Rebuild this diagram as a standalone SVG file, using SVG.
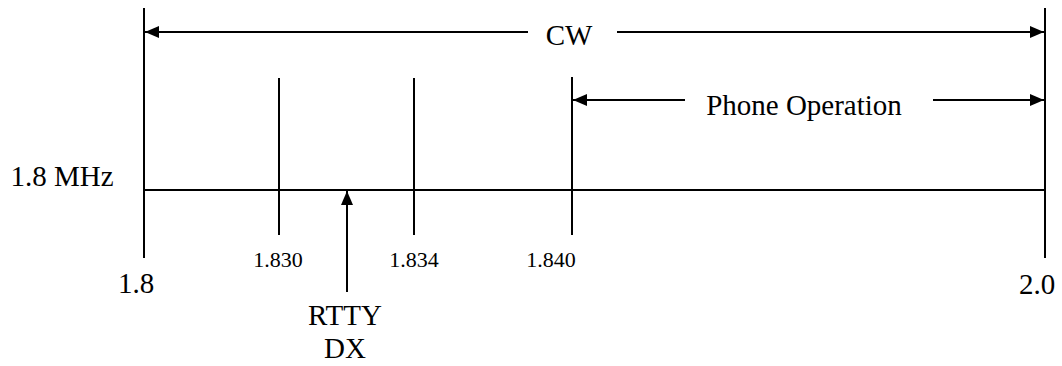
<svg xmlns="http://www.w3.org/2000/svg" width="1062" height="366" viewBox="0 0 1062 366">
<style>
.ln{stroke:#000;stroke-width:2;fill:none}
.t{font-family:"Liberation Serif","Times New Roman",serif;fill:#000;text-anchor:middle}
.big{font-size:29px}
.sm{font-size:22px}
</style>
<defs>
<marker id="ah" viewBox="0 0 14 12" refX="14" refY="6" markerWidth="14" markerHeight="12" markerUnits="userSpaceOnUse" orient="auto">
<path d="M0,0 L14,6 L0,12 z" fill="#000"/>
</marker>
</defs>
<rect width="1062" height="366" fill="#fff"/>
<g id="connectors">
<line class="ln" x1="144" y1="8" x2="144" y2="258"/>
<line class="ln" x1="1045" y1="8" x2="1045" y2="258"/>
<line class="ln" x1="144" y1="190" x2="1045" y2="190"/>
<line class="ln" x1="279" y1="78" x2="279" y2="235"/>
<line class="ln" x1="414" y1="78" x2="414" y2="235"/>
<line class="ln" x1="572" y1="77" x2="572" y2="235"/>
<line class="ln" x1="528" y1="32" x2="145" y2="32" marker-end="url(#ah)"/>
<line class="ln" x1="617" y1="32" x2="1044" y2="32" marker-end="url(#ah)"/>
<line class="ln" x1="685" y1="100" x2="573" y2="100" marker-end="url(#ah)"/>
<line class="ln" x1="933" y1="100" x2="1044" y2="100" marker-end="url(#ah)"/>
<line class="ln" x1="347" y1="292" x2="347" y2="191" marker-end="url(#ah)"/>
</g>
<g id="cw"><text class="t big" x="569" y="45">CW</text></g>
<g id="phone"><text class="t big" x="804" y="115">Phone Operation</text></g>
<g id="band"><text class="t big" x="62" y="186">1.8 MHz</text></g>
<g id="f18"><text class="t big" x="136" y="293">1.8</text></g>
<g id="f20"><text class="t big" x="1037" y="294">2.0</text></g>
<g id="f1830"><text class="t sm" x="278" y="267">1.830</text></g>
<g id="f1834"><text class="t sm" x="414" y="267">1.834</text></g>
<g id="f1840"><text class="t sm" x="551" y="267">1.840</text></g>
<g id="rtty"><text class="t big" x="345" y="325">RTTY</text><text class="t big" x="345" y="358">DX</text></g>
</svg>
